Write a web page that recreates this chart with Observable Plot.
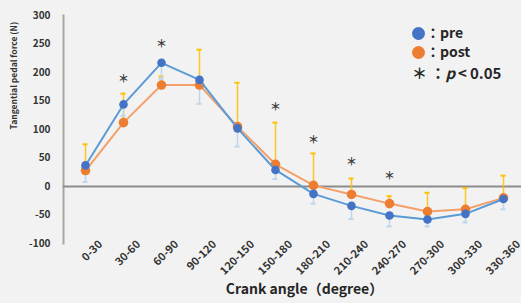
<!DOCTYPE html>
<html>
<head>
<meta charset="utf-8">
<script src="https://cdn.jsdelivr.net/npm/d3@7"></script>
<script src="https://cdn.jsdelivr.net/npm/@observablehq/plot@0.6"></script>
<style>
  html, body { margin: 0; padding: 0; background: #f2f2f2; overflow: hidden; }
  #wrap { position: relative; width: 521px; height: 303px; }
  .leg { position: absolute; font-family: "Noto Sans CJK JP", "Noto Sans", sans-serif; font-weight: 700; font-size: 14px; color: #262626; white-space: nowrap; line-height: 1; }
  .dot { position: absolute; width: 13px; height: 13px; border-radius: 50%; }
</style>
</head>
<body>
<div id="wrap"></div>
<script>
const categories = ["0-30","30-60","60-90","90-120","120-150","150-180","180-210","210-240","240-270","270-300","300-330","330-360"];
const preMean  = [37, 144, 217, 187, 102, 29, -13, -34, -51, -58, -48, -22];
const preSD    = [29, 20, 28, 42, 32, 16, 17, 23, 19, 12, 15, 18];
const postMean = [28, 112, 178, 178, 105, 39, 2, -14, -30, -44, -40, -20];
const postSD   = [46, 51, 15, 62, 77, 73, 56, 28, 13, 33, 37, 39];
const sigCategories = ["30-60","60-90","150-180","180-210","210-240","240-270"];
const sigY = [187, 249, 138, 81, 43, 18];
const yTicks = [-100, -50, 0, 50, 100, 150, 200, 250, 300];

const pre = categories.map((c, i) => ({cat: c, mean: preMean[i], lo: preMean[i] - preSD[i]}));
const post = categories.map((c, i) => ({cat: c, mean: postMean[i], hi: postMean[i] + postSD[i]}));
const sig = sigCategories.map((c, i) => ({cat: c, y: sigY[i]}));

const font = "'Noto Sans CJK JP', 'Noto Sans', sans-serif";

const chart = Plot.plot({
  width: 521,
  height: 303,
  marginLeft: 63,
  marginRight: -4,
  marginTop: 15,
  marginBottom: 60,
  style: {background: "#f2f2f2", fontFamily: font, fontWeight: "bold", color: "#333", overflow: "visible"},
  x: {type: "band", domain: categories, padding: 0, axis: null},
  y: {domain: [-100, 300], ticks: yTicks, tickSize: 0, tickPadding: 13, tickFormat: d => String(d), label: null, fontSize: 11},
  marks: [
    Plot.frame({anchor: "left", stroke: "#a6a6a6", strokeWidth: 2}),
    Plot.ruleY([0], {stroke: "#8c8c8c", strokeWidth: 2}),
    // post error bars (up)
    Plot.ruleX(post, {x: "cat", y1: "mean", y2: "hi", stroke: "#ffc000", strokeWidth: 1.5, strokeOpacity: 0.85}),
    Plot.tickY(post, {x: "cat", y: "hi", stroke: "#ffc000", strokeWidth: 2, insetLeft: 16.5, insetRight: 16.5}),
    // pre error bars (down)
    Plot.ruleX(pre, {x: "cat", y1: "mean", y2: "lo", stroke: "#bdd7ee", strokeWidth: 1.5}),
    Plot.tickY(pre, {x: "cat", y: "lo", stroke: "#bdd7ee", strokeWidth: 2, insetLeft: 16.5, insetRight: 16.5}),
    // post line + dots
    Plot.line(post, {x: "cat", y: "mean", stroke: "#f4a06a", strokeWidth: 2}),
    Plot.dot(post, {x: "cat", y: "mean", r: 4.8, fill: "#ed7d31"}),
    // pre line + dots
    Plot.line(pre, {x: "cat", y: "mean", stroke: "#5b9bd5", strokeWidth: 2}),
    Plot.dot(pre, {x: "cat", y: "mean", r: 4.3, fill: "#4472c4"}),
    // significance markers
    Plot.text(sig, {x: "cat", y: "y", text: () => "＊", fontSize: 11, fill: "#404040", fontWeight: "bold"}),
    // x tick labels (rotated)
    Plot.text(categories, {x: d => d, y: () => -100, text: d => d, rotate: -45, textAnchor: "end", lineAnchor: "middle", dx: 15, dy: -1, fontSize: 11, fill: "#333"}),
    // y axis label
    Plot.text(["Tangential pedal force (N)"], {frameAnchor: "left", dx: -49, rotate: -90, fontSize: 8.5, fill: "#333"}),
    // x axis title
    Plot.text(["Crank angle（degree）"], {frameAnchor: "bottom", dx: 10, dy: 50, fontSize: 14, fill: "#262626"})
  ]
});

const wrap = document.getElementById("wrap");
wrap.appendChild(chart);

// legend
const legendItems = [
  {label: "：pre", color: "#4472c4", y: 33},
  {label: "：post", color: "#ed7d31", y: 52}
];
for (const it of legendItems) {
  const d = document.createElement("div");
  d.className = "dot";
  d.style.background = it.color;
  d.style.left = (418 - 6.5) + "px";
  d.style.top = (it.y - 6.5) + "px";
  wrap.appendChild(d);
  const t = document.createElement("div");
  t.className = "leg";
  t.textContent = it.label;
  t.style.left = "426px";
  t.style.top = (it.y - 8) + "px";
  wrap.appendChild(t);
}
const p = document.createElement("div");
p.className = "leg";
p.style.left = "412px";
p.style.top = (74 - 9) + "px";
p.style.fontSize = "15px";
p.innerHTML = "＊ ：<i>p</i>&thinsp;&lt;&thinsp;0.05";
wrap.appendChild(p);
</script>
</body>
</html>
